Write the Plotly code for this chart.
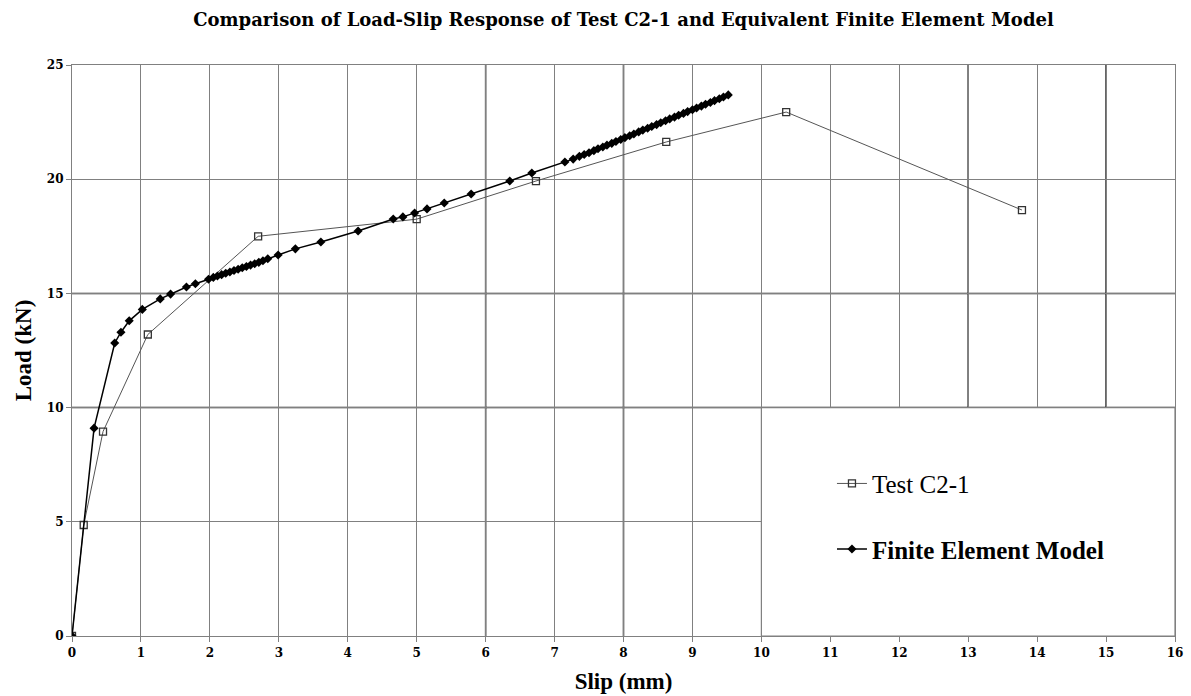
import plotly.graph_objects as go

# Test C2-1 (open squares)
test_slip = [0, 0.17, 0.45, 1.10, 2.70, 5.00, 6.73, 8.62, 10.36, 13.78]
test_load = [0, 4.86, 8.95, 13.2, 17.5, 18.25, 19.92, 21.63, 22.94, 18.65]

# Finite Element Model (filled diamonds)
fe_slip = [0, 0.32, 0.62, 0.71, 0.83, 1.02, 1.28, 1.43, 1.66, 1.79, 1.98,
           2.05, 2.11, 2.17, 2.23, 2.29, 2.35, 2.41, 2.47, 2.53, 2.59, 2.65,
           2.71, 2.77, 2.84, 2.99, 3.24, 3.61, 4.15, 4.66, 4.80, 4.97, 5.15,
           5.40, 5.79, 6.35, 6.67, 7.15, 7.27, 7.36, 7.43, 7.50, 7.57, 7.63,
           7.70, 7.76, 7.83, 7.89, 7.96, 8.02, 8.09, 8.15, 8.22, 8.28, 8.35,
           8.41, 8.48, 8.54, 8.61, 8.67, 8.74, 8.80, 8.87, 8.93, 9.00, 9.06,
           9.13, 9.19, 9.26, 9.32, 9.39, 9.45, 9.52]
fe_load = [0, 9.1, 12.83, 13.3, 13.8, 14.3, 14.76, 14.97, 15.28, 15.42, 15.62,
           15.70, 15.76, 15.82, 15.88, 15.94, 16.00, 16.06, 16.12, 16.18, 16.24,
           16.30, 16.36, 16.43, 16.52, 16.68, 16.95, 17.25, 17.73, 18.26, 18.35,
           18.52, 18.70, 18.96, 19.35, 19.92, 20.27, 20.75, 20.88, 21.00, 21.08,
           21.16, 21.25, 21.33, 21.41, 21.49, 21.57, 21.65, 21.74, 21.82, 21.90,
           21.98, 22.07, 22.15, 22.23, 22.31, 22.39, 22.47, 22.56, 22.64, 22.72,
           22.80, 22.88, 22.96, 23.04, 23.12, 23.20, 23.28, 23.36, 23.44, 23.52,
           23.60, 23.69]

x_ticks = list(range(0, 17))
y_ticks = [0, 5, 10, 15, 20, 25]
dark_x = [6, 8, 13, 15]
dark_y = [10, 15]

FONT = "Liberation Serif"
WIDE = "DejaVu Serif"

fig = go.Figure()

fig.add_trace(go.Scatter(
    x=test_slip, y=test_load, mode="lines+markers", name="Test C2-1",
    legendgroup="a",
    line=dict(color="#555555", width=1),
    marker=dict(symbol="square-open", size=7, color="#333333",
                line=dict(width=1.3, color="#333333")),
))
fig.add_trace(go.Scatter(
    x=fe_slip, y=fe_load, mode="lines+markers", name="<b>Finite Element Model</b>",
    legendgroup="b",
    line=dict(color="black", width=1.5),
    marker=dict(symbol="diamond", size=7, color="black"),
))

shapes = []
for xv in dark_x:
    shapes.append(dict(type="line", xref="x", yref="y", x0=xv, x1=xv, y0=0, y1=25,
                       line=dict(color="#202020", width=1.5), layer="below"))
for yv in dark_y:
    shapes.append(dict(type="line", xref="x", yref="y", x0=0, x1=16, y0=yv, y1=yv,
                       line=dict(color="#202020", width=1.5), layer="below"))
# legend box covering lower-right grid region
shapes.append(dict(type="rect", xref="x", yref="y", x0=10, x1=16, y0=0, y1=10,
                   fillcolor="white", line=dict(color="#808080", width=1.2),
                   layer="between"))
fig.update_layout(shapes=shapes)

fig.update_layout(
    width=1191, height=696,
    margin=dict(l=72, r=16, t=65, b=60, autoexpand=False),
    paper_bgcolor="white", plot_bgcolor="white",
    font=dict(family=FONT, color="black"),
    title=dict(text="<b>Comparison of Load-Slip Response of Test C2-1 and Equivalent Finite Element Model</b>",
               x=0.5, xref="paper", xanchor="center", y=0.972, yanchor="middle",
               font=dict(size=18, family=WIDE, color="black")),
    xaxis=dict(range=[0, 16], tickvals=x_ticks, ticktext=[f"<b>{v}</b>" for v in x_ticks],
               showgrid=True, gridcolor="#808080", gridwidth=1,
               showline=True, linecolor="#808080", linewidth=1.2, mirror=True,
               ticks="outside", ticklen=5, tickcolor="#808080", automargin=False,
               zeroline=False, tickfont=dict(size=12, family=WIDE),
               title=dict(text="<b>Slip (mm)</b>", font=dict(size=23, family=FONT), standoff=14)),
    yaxis=dict(range=[0, 25], tickvals=y_ticks, ticktext=[f"<b>{v}</b>" for v in y_ticks],
               showgrid=True, gridcolor="#808080", gridwidth=1,
               showline=True, linecolor="#808080", linewidth=1.2, mirror=True,
               ticks="outside", ticklen=5, tickcolor="#808080", automargin=False,
               zeroline=False, tickfont=dict(size=12, family=WIDE),
               title=dict(text="<b>Load (kN)</b>", font=dict(size=23, family=FONT), standoff=8)),
    legend=dict(x=0.689, y=0.307, xanchor="left", yanchor="top",
                bgcolor="rgba(0,0,0,0)", font=dict(size=25, family=FONT, color="black"),
                traceorder="grouped", tracegroupgap=30, itemwidth=30),
    showlegend=True,
)

fig.write_html("out.html")
